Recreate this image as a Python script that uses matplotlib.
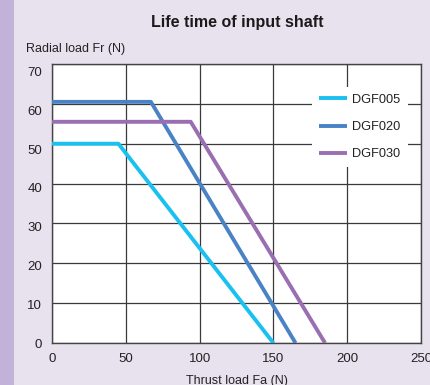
import matplotlib
matplotlib.use("Agg")
import matplotlib.pyplot as plt
from matplotlib.patches import Rectangle
from matplotlib.transforms import ScaledTranslation

plt.rcParams['font.family'] = ['Liberation Sans', 'DejaVu Sans']

# Derating curves: thrust load (x) vs allowable radial load (y)
series_names = ["DGF005", "DGF020", "DGF030"]
thrust_005 = [0, 45, 150]
radial_005 = [50, 50, 0]
thrust_020 = [0, 67, 165]
radial_020 = [60.5, 60.5, 0]
thrust_030 = [0, 94, 185]
radial_030 = [55.5, 55.5, 0]
colors = ["#19c0f0", "#4a82c6", "#9a6fb2"]

x_ticks = [0, 50, 100, 150, 200, 250]
y_ticks = [0, 10, 20, 30, 40, 50, 60, 70]

bg = "#e8e2ef"
fig = plt.figure(figsize=(4.3, 3.85), dpi=100, facecolor=bg)
# purple side strip
fig.patches.append(Rectangle((0, 0), 14 / 430, 1, transform=fig.transFigure,
                             facecolor="#c2b2d8", edgecolor="none", zorder=0))

ax = fig.add_axes([52 / 430, 1 - 343 / 385, 369 / 430, 279 / 385])
ax.set_facecolor("white")

for xs, ys, name, c in zip([thrust_005, thrust_020, thrust_030],
                           [radial_005, radial_020, radial_030],
                           series_names, colors):
    ax.plot(xs, ys, color=c, lw=2.8, label=name, solid_capstyle="butt", zorder=3)

ax.set_xlim(0, 250)
ax.set_ylim(0, 70)
ax.set_xticks(x_ticks)
ax.set_yticks(y_ticks)
ax.grid(True, color="#3a3a3a", lw=0.9)
ax.set_axisbelow(True)
ax.tick_params(length=0, labelsize=9.5, colors="#222222", pad=7)
for s in ax.spines.values():
    s.set_color("#444444")
    s.set_linewidth(1.0)

# y tick labels sit on a slightly tighter pitch than the grid
for v, lab in zip(y_ticks, ax.get_yticklabels()):
    lab.set_transform(lab.get_transform()
                      + ScaledTranslation(0, -v * 0.11 / 100, fig.dpi_scale_trans))

leg = ax.legend(loc="upper left", bbox_to_anchor=(0.705, 0.918), frameon=True,
                fancybox=False, facecolor="white", edgecolor="white", framealpha=1,
                fontsize=9.2, handlelength=2.2, handletextpad=0.4,
                labelspacing=1.18, borderpad=0.55, borderaxespad=0)
leg.get_frame().set_linewidth(0)
for t in leg.get_texts():
    t.set_color("#222222")

fig.text(237 / 430, 1 - 22 / 385, "Life time of input shaft", ha="center", va="center",
         fontsize=11.5, fontweight="bold", color="#1a1a1a")
fig.text(26 / 430, 1 - 49 / 385, "Radial load Fr (N)", ha="left", va="center",
         fontsize=9, color="#222222")
fig.text(237 / 430, 1 - 381 / 385, "Thrust load Fa (N)", ha="center", va="center",
         fontsize=9, color="#222222")

fig.savefig("out.png", dpi=100, facecolor=bg)
